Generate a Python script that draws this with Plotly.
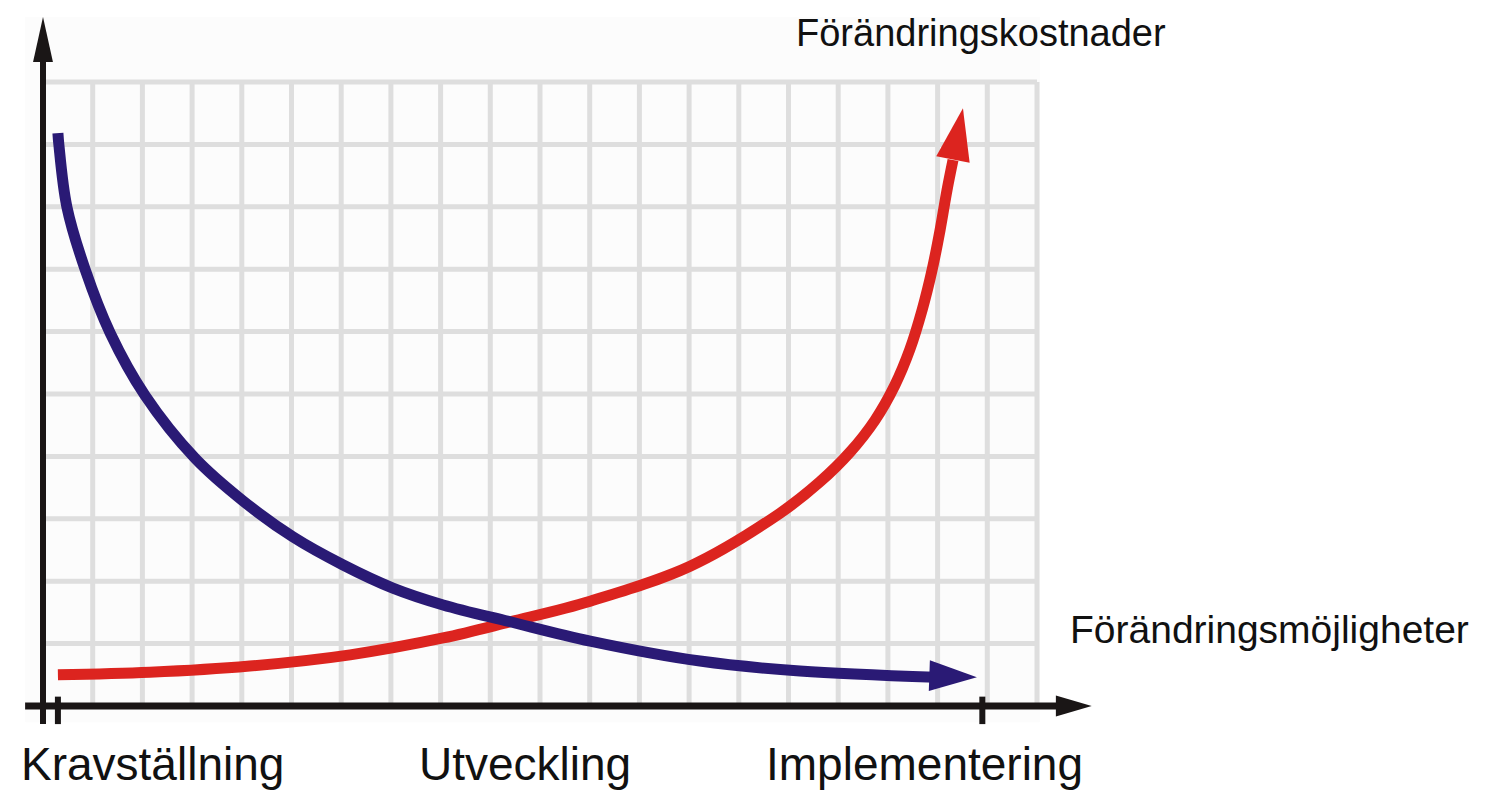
import plotly.graph_objects as go

# ---- data (grid units: x 0..20 columns, y 0..10 rows) ----
blue_x = [0.30, 0.32, 0.48, 0.85, 1.35, 2.05, 3.06, 4.02, 5.03, 6.04, 7.04, 8.05,
          9.40, 11.01, 13.22, 15.23, 17.95]
blue_y = [9.18, 8.99, 8.00, 6.99, 5.98, 4.98, 3.97, 3.29, 2.71, 2.26, 1.89, 1.62,
          1.35, 1.04, 0.72, 0.56, 0.46]
blue_tip = (18.79, 0.46)

red_x = [0.30, 2.15, 4.16, 6.18, 8.05, 9.40, 11.01, 13.02, 14.83, 15.63, 16.24,
         16.74, 17.14, 17.44, 17.69, 17.89, 18.05, 18.19, 18.31]
red_y = [0.50, 0.54, 0.64, 0.82, 1.09, 1.35, 1.68, 2.24, 3.09, 3.59, 4.07,
         4.58, 5.14, 5.71, 6.35, 6.99, 7.63, 8.27, 8.75]
red_tip = (18.51, 9.58)

phase_labels = ["Kravställning", "Utveckling", "Implementering"]
phase_pos = [2.21, 9.70, 17.73]
cost_label = "Förändringskostnader"
opp_label = "Förändringsmöjligheter"

GRID_COLS = 20
GRID_ROWS = 10

# ---- styling ----
W, H = 1486, 798
PX_X = 49.7   # pixels per column
PX_Y = 62.4   # pixels per row
X0_PX, Y0_PX = 43, 706
x_range = [-X0_PX / PX_X, (W - X0_PX) / PX_X]
y_range = [-(H - Y0_PX) / PX_Y, Y0_PX / PX_Y]

BLUE = "#2a1a75"
RED = "#dc241f"
GRID = "#dedede"
AXIS = "#1a1616"

fig = go.Figure()

shapes = []
# faint background box
shapes.append(dict(type="rect", xref="x", yref="y", x0=-0.36, x1=20.06, y0=-0.26, y1=11.04,
                   fillcolor="#fcfcfc", line=dict(width=0), layer="below"))
for r in range(1, GRID_ROWS + 1):
    shapes.append(dict(type="line", xref="x", yref="y", x0=0, x1=GRID_COLS, y0=r, y1=r,
                       line=dict(color=GRID, width=5), layer="below"))
for c in range(1, GRID_COLS + 1):
    shapes.append(dict(type="line", xref="x", yref="y", x0=c, x1=c, y0=0, y1=GRID_ROWS,
                       line=dict(color=GRID, width=5), layer="below"))

# axes
y_tip = 11.04
x_tip = 21.1
shapes.append(dict(type="line", xref="x", yref="y", x0=0, x1=0, y0=-0.29, y1=y_tip - 0.5,
                   line=dict(color=AXIS, width=6), layer="below"))
shapes.append(dict(type="line", xref="x", yref="y", x0=-0.36, x1=x_tip - 0.5, y0=0, y1=0,
                   line=dict(color=AXIS, width=7), layer="below"))
# arrowheads on axes
shapes.append(dict(type="path", xref="x", yref="y",
                   path=f"M {-0.2} {y_tip-0.72} L 0 {y_tip} L {0.2} {y_tip-0.72} Z",
                   fillcolor=AXIS, line=dict(width=0), layer="below"))
shapes.append(dict(type="path", xref="x", yref="y",
                   path=f"M {x_tip-0.72} {-0.17} L {x_tip} 0 L {x_tip-0.72} {0.17} Z",
                   fillcolor=AXIS, line=dict(width=0), layer="below"))
# ticks
for tx in [blue_x[0], 18.9]:
    shapes.append(dict(type="line", xref="x", yref="y", x0=tx, x1=tx, y0=-0.29, y1=0.15,
                       line=dict(color=AXIS, width=6), layer="below"))


def add_curve(xs, ys, tip, color, head):
    fig.add_trace(go.Scatter(
        x=xs, y=ys, mode="lines",
        line=dict(color=color, width=11, shape="spline", smoothing=1.0),
        hoverinfo="skip", showlegend=False))
    fig.add_trace(go.Scatter(
        x=[xs[-2], tip[0]], y=[ys[-2], tip[1]], mode="markers",
        marker=dict(symbol="arrow", size=[0, head], angleref="previous", color=color,
                    opacity=1, line=dict(width=0)),
        hoverinfo="skip", showlegend=False))


add_curve(red_x, red_y, red_tip, RED, 55)
add_curve(blue_x, blue_y, blue_tip, BLUE, 50)

annotations = [
    dict(x=18.87, y=10.79, text=cost_label, font=dict(size=38)),
    dict(x=24.67, y=1.22, text=opp_label, font=dict(size=39)),
]
for lab, pos in zip(phase_labels, phase_pos):
    annotations.append(dict(x=pos, y=-0.93, text=lab, font=dict(size=46)))
for a in annotations:
    a.update(xref="x", yref="y", showarrow=False, xanchor="center", yanchor="middle")
    a["font"].update(family="Liberation Sans, Arial, sans-serif", color="#111111")

fig.update_layout(
    width=W, height=H, margin=dict(l=0, r=0, t=0, b=0),
    paper_bgcolor="white", plot_bgcolor="white",
    xaxis=dict(range=x_range, visible=False, fixedrange=True),
    yaxis=dict(range=y_range, visible=False, fixedrange=True),
    shapes=shapes, annotations=annotations,
)

fig.write_html("out.html", config={"displayModeBar": False},
               post_script="document.body.style.margin='0';document.body.style.overflow='hidden';")
